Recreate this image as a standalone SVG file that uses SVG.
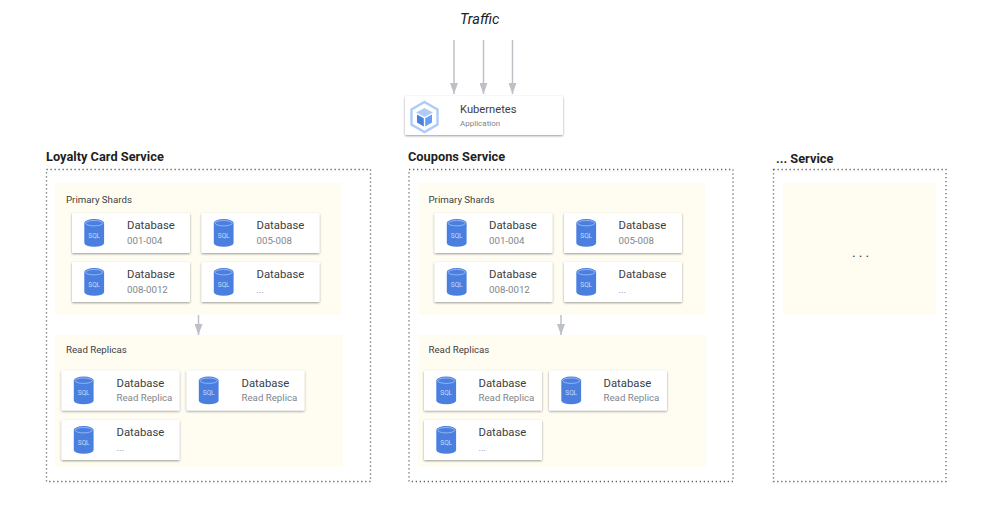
<svg xmlns="http://www.w3.org/2000/svg" width="1000" height="506" viewBox="0 0 1000 506">
<style>
text{font-family:Roboto,"Liberation Sans",sans-serif}
.svc{font-size:12.800px;font-weight:700;fill:#1f1f1f}
.bound{fill:none;stroke:#666;stroke-width:1.300;stroke-dasharray:1.300 2.700}
.panel{fill:#fffdf2}
.plabel{font-size:9.700px;fill:#3c4043}
.card{fill:#fff;filter:url(#sh)}
.t1{font-size:11.300px;fill:#3c4043}
.t2{font-size:9.700px;fill:#80868b}
.link{stroke:#bdc1c6;stroke-width:1.500;fill:none;marker-end:url(#ah)}
.sql{font-size:6.500px;fill:#c6dafc;text-anchor:middle}
</style>
<defs>
<filter id="sh" x="-5%" y="-10%" width="110%" height="125%">
<feDropShadow dx="0" dy="1" stdDeviation="0.800" flood-color="#000" flood-opacity="0.400"/>
</filter>
<marker id="ah" viewBox="0 0 11 8" refX="11" refY="4" markerWidth="11" markerHeight="8" markerUnits="userSpaceOnUse" orient="auto">
<path d="M0 0L11 4L0 8Z" fill="#bdc1c6"/>
</marker>
<g id="dbcard">
<rect class="card" width="118" height="40" rx="1"/>
<path d="M12.300 10a9.900 4 0 0 1 19.800 0v20a9.900 3.800 0 0 1-19.800 0z" fill="#4a7fe0"/>
<ellipse cx="22.200" cy="10.200" rx="8.600" ry="2.700" fill="#4a7fe0" stroke="#aecbfa" stroke-width="0.700"/>
<text class="sql" x="22.200" y="24.500">SQL</text>
</g>
</defs>
<text x="460" y="24" font-size="14.500" font-style="italic" fill="#202124">Traffic</text>
<g id="svc-loyalty">
<text class="svc" x="46" y="161">Loyalty Card Service</text>
<rect class="bound" x="46.500" y="169.500" width="324" height="312"/>
<rect class="panel" x="55" y="183" width="287" height="132"/>
<text class="plabel" x="66" y="203">Primary Shards</text>
<rect class="panel" x="55" y="335" width="288" height="132"/>
<text class="plabel" x="66" y="353">Read Replicas</text>
</g>
<g id="svc-coupons">
<text class="svc" x="408" y="161">Coupons Service</text>
<rect class="bound" x="409" y="169.500" width="324" height="312"/>
<rect class="panel" x="418" y="183" width="287" height="132"/>
<text class="plabel" x="428.500" y="203">Primary Shards</text>
<rect class="panel" x="418" y="335" width="288" height="132"/>
<text class="plabel" x="428.500" y="353">Read Replicas</text>
</g>
<g id="svc-other">
<text class="svc" x="776" y="163">... Service</text>
<rect class="bound" x="773.500" y="169.500" width="172.500" height="312"/>
<rect class="panel" x="783" y="183" width="153" height="132"/>
<text x="852" y="257" font-size="14" fill="#3c4043" letter-spacing="3">...</text>
</g>
<g id="connectors">
<path class="link" d="M454 40V94"/>
<path class="link" d="M483.500 40V94"/>
<path class="link" d="M512.500 40V94"/>
<path class="link" d="M198.500 315V335"/>
<path class="link" d="M561 315V335"/>
</g>
<g id="k8s">
<rect class="card" x="405" y="96" width="158" height="39" rx="1"/>
<path d="M424.500 102L437.500 109.500V124.500L424.500 132L411.500 124.500V109.500Z" fill="#fff" stroke="#aecbfa" stroke-width="2.400"/>
<path d="M424.500 108L433 112.500L424.500 117L416 112.500Z" fill="#aecbfa"/>
<path d="M417 114.500L423.800 118.300V126.500L417 122.500Z" fill="#4a7fe0"/>
<path d="M432 114.500L425.200 118.300V126.500L432 122.500Z" fill="#669df6"/>
<text x="460" y="113" font-size="11.200" fill="#3c4043">Kubernetes</text>
<text x="460" y="126" font-size="8" fill="#80868b">Application</text>
</g>
<g id="l-p1" transform="translate(72 213)"><use href="#dbcard"/><text class="t1" x="55" y="16">Database</text><text class="t2" x="55" y="30.500">001-004</text></g>
<g id="l-p2" transform="translate(201.500 213)"><use href="#dbcard"/><text class="t1" x="55" y="16">Database</text><text class="t2" x="55" y="30.500">005-008</text></g>
<g id="l-p3" transform="translate(72 262)"><use href="#dbcard"/><text class="t1" x="55" y="16">Database</text><text class="t2" x="55" y="30.500">008-0012</text></g>
<g id="l-p4" transform="translate(201.500 262)"><use href="#dbcard"/><text class="t1" x="55" y="16">Database</text><text class="t2" x="55" y="30.500">...</text></g>
<g id="l-r1" transform="translate(61.500 370.500)"><use href="#dbcard"/><text class="t1" x="55" y="16">Database</text><text class="t2" x="55" y="30.500">Read Replica</text></g>
<g id="l-r2" transform="translate(186.500 370.500)"><use href="#dbcard"/><text class="t1" x="55" y="16">Database</text><text class="t2" x="55" y="30.500">Read Replica</text></g>
<g id="l-r3" transform="translate(61.500 420)"><use href="#dbcard"/><text class="t1" x="55" y="16">Database</text><text class="t2" x="55" y="30.500">...</text></g>
<g id="c-p1" transform="translate(434.500 213)"><use href="#dbcard"/><text class="t1" x="54.500" y="16">Database</text><text class="t2" x="54.500" y="30.500">001-004</text></g>
<g id="c-p2" transform="translate(564 213)"><use href="#dbcard"/><text class="t1" x="54.500" y="16">Database</text><text class="t2" x="54.500" y="30.500">005-008</text></g>
<g id="c-p3" transform="translate(434.500 262)"><use href="#dbcard"/><text class="t1" x="54.500" y="16">Database</text><text class="t2" x="54.500" y="30.500">008-0012</text></g>
<g id="c-p4" transform="translate(564 262)"><use href="#dbcard"/><text class="t1" x="54.500" y="16">Database</text><text class="t2" x="54.500" y="30.500">...</text></g>
<g id="c-r1" transform="translate(424 370.500)"><use href="#dbcard"/><text class="t1" x="54.500" y="16">Database</text><text class="t2" x="54.500" y="30.500">Read Replica</text></g>
<g id="c-r2" transform="translate(549 370.500)"><use href="#dbcard"/><text class="t1" x="54.500" y="16">Database</text><text class="t2" x="54.500" y="30.500">Read Replica</text></g>
<g id="c-r3" transform="translate(424 420)"><use href="#dbcard"/><text class="t1" x="54.500" y="16">Database</text><text class="t2" x="54.500" y="30.500">...</text></g>
</svg>
